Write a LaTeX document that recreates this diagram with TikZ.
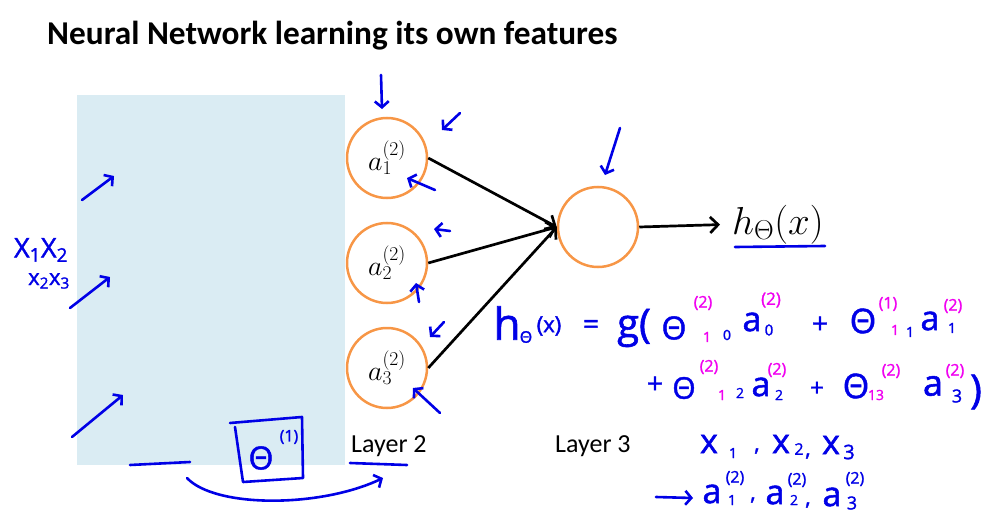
\RequirePackage{fix-cm}
\documentclass[tikz,border=0pt]{standalone}
\usepackage[no-math]{fontspec}
\setmainfont{Carlito}
\newfontfamily\handf[FakeBold=1.5]{Open Sans}
\usetikzlibrary{arrows.meta}
\definecolor{inkblue}{RGB}{0,0,230}
\definecolor{inkpink}{RGB}{240,0,240}
\definecolor{nodeorange}{RGB}{247,150,70}
\definecolor{panelblue}{RGB}{218,236,243}
\tikzset{
  neuron/.style={circle, draw=nodeorange, line width=2.5pt, minimum size=80pt, inner sep=0pt, fill=white, font=\fontsize{28}{28}\selectfont},
  conn/.style={draw=black, line width=2.7pt, -{Straight Barb[length=8pt,width=16pt]}},
  layerlbl/.style={inner sep=0pt, anchor=base west, font=\fontsize{26}{26}\selectfont},
  ink/.style={draw=inkblue, line width=2.6pt, line cap=round, line join=round},
  inkarr/.style={ink, -{Straight Barb[length=6pt,width=14pt]}},
  hw/.style={text=inkblue, inner sep=0pt, font=\handf\fontsize{#1}{#1}\selectfont},
  pk/.style={text=inkpink, inner sep=0pt, font=\handf\fontsize{#1}{#1}\selectfont},
}
\begin{document}
\begin{tikzpicture}[x=1pt,y=-1pt]
\useasboundingbox (0,0) rectangle (991,527);
% title
\node[inner sep=0pt, anchor=base west, font=\bfseries\fontsize{33.3}{34}\selectfont] (title) at (47,45) {Neural Network learning its own features};
% panel
\fill[panelblue] (77,95) rectangle (345,465);
% neurons
\node[neuron] (a1) at (387,158) {$a^{(2)}_1$};
\node[neuron] (a2) at (387,263) {$a^{(2)}_2$};
\node[neuron] (a3) at (387,368) {$a^{(2)}_3$};
\node[neuron] (out) at (598,227) {};
\node[inner sep=0pt, anchor=base west, font=\fontsize{39}{39}\selectfont] (hx) at (732,234) {$h_{\Theta}(x)$};
\draw[conn] (a1.east) -- (out.west);
\draw[conn] (a2.east) -- (out.west);
\draw[conn] (a3.east) -- (out.west);
\draw[conn, shorten >=12pt] (out.east) -- (hx.west);
\node[layerlbl] (l2) at (351,452) {Layer 2};
\node[layerlbl] (l3) at (555,452) {Layer 3};

% ---- handwritten annotations ----
% arrows around hidden units
\coordinate (s1) at (381,75);  \coordinate (e1) at (382,109);
\coordinate (s2) at (460,113); \coordinate (e2) at (442,130);
\coordinate (s3) at (435,190); \coordinate (e3) at (407,178);
\coordinate (s4) at (450,231); \coordinate (e4) at (434,229);
\coordinate (s5) at (419,302); \coordinate (e5) at (416,283);
\coordinate (s6) at (444,322); \coordinate (e6) at (430,337);
\coordinate (s7) at (440,413); \coordinate (e7) at (413,388);
\coordinate (s8) at (620,128); \coordinate (e8) at (605,175);
\foreach \i in {1,...,8} {\draw[inkarr] (s\i) -- (e\i);}
% arrows inside panel
\coordinate (p1s) at (82,200);  \coordinate (p1e) at (114,176);
\coordinate (p2s) at (70,308);  \coordinate (p2e) at (110,277);
\coordinate (p3s) at (72,437);  \coordinate (p3e) at (123,395);
\draw[inkarr] (p1s) -- (p1e);
\draw[inkarr] (p2s) -- (p2e);
\draw[inkarr] (p3s) -- (p3e);
% left notes
\node[hw=27] (xx1) at (41,250) {X\textsubscript{1}X\textsubscript{2}};
\node[hw=22] (xx2) at (49,281) {x\textsubscript{2}x\textsubscript{3}};
% underlines
\coordinate (u1s) at (735,247); \coordinate (u1e) at (825,246);
\coordinate (u2s) at (350,463); \coordinate (u2e) at (407,465);
\coordinate (u3s) at (130,465); \coordinate (u3e) at (190,462);
\draw[ink] (u1s) -- (u1e);
\draw[ink] (u2s) -- (u2e);
\draw[ink] (u3s) -- (u3e);
% boxed Theta(1)
\draw[ink] (230,423) -- (302,417) -- (303,478) -- (243,482) -- (235,427);
\node[hw=32] (bth) at (261,458) {Θ};
\node[hw=16] (bsup) at (289,437) {(1)};
% curved arrow
\coordinate (cv1) at (187,478); \coordinate (cv2) at (383,478);
\draw[inkarr] (cv1) .. controls (215,508) and (320,508) .. (cv2);

% formula line 1
\node[hw=44] (fh) at (507,323) {h};
\node[hw=16] (fth) at (526,337) {Θ};
\node[hw=22] (fx) at (549,326) {(x)};
\node[hw=28] (feq) at (591,327) {=};
\node[hw=40] (fg) at (634,328) {g(};
\node[hw=32] (fT1) at (674,328) {Θ};
\node[pk=16] (q1) at (703,303) {(2)};
\node[pk=14] (q1s) at (707,337) {1};
\node[hw=14] (r1s) at (727,335) {0};
\node[hw=34] (fa0) at (752,322) {a};
\node[hw=15] (fa0s) at (769,330) {0};
\node[pk=17] (q2) at (771,300) {(2)};
\node[hw=28] (fp1) at (820,325) {+};
\node[hw=34] (fT2) at (863,321) {Θ};
\node[pk=16] (q3) at (888,304) {(1)};
\node[pk=14] (q3s) at (895,330) {1};
\node[hw=14] (r3s) at (910,332) {1};
\node[hw=34] (fa1) at (930,321) {a};
\node[hw=14] (fa1s) at (952,328) {1};
\node[pk=16] (q4) at (953,306) {(2)};
% formula line 2
\node[hw=28] (fp2) at (655,385) {+};
\node[hw=30] (fT3) at (684,388) {Θ};
\node[pk=16] (q5) at (709,367) {(2)};
\node[pk=14] (q5s) at (722,395) {1};
\node[hw=14] (r5s) at (740,393) {2};
\node[hw=34] (fa2) at (761,387) {a};
\node[hw=14] (fa2s) at (779,395) {2};
\node[pk=16] (q6) at (777,370) {(2)};
\node[hw=24] (fp3) at (817,389) {+};
\node[hw=34] (fT4) at (856,386) {Θ};
\node[pk=16] (q7) at (891,371) {(2)};
\node[pk=14] (q7s) at (876,395) {13};
\node[hw=36] (fa3) at (933,386) {a};
\node[hw=18] (fa3s) at (957,396) {3};
\node[pk=16] (q8) at (955,371) {(2)};
\node[hw=40] (fcl) at (976,392) {)};

% bottom right notes
\node[hw=34] (bx1) at (709,444) {x};
\node[hw=14] (bx1s) at (733,453) {1};
\node[hw=22] (bc1) at (757,451) {,};
\node[hw=34] (bx2) at (781,444) {x};
\node[hw=16] (bx2s) at (799,449) {2};
\node[hw=22] (bc2) at (808,456) {,};
\node[hw=34] (bx3) at (831,445) {x};
\node[hw=20] (bx3s) at (849,452) {3};
\coordinate (ba1) at (656,497); \coordinate (ba2) at (693,498);
\draw[inkarr] (ba1) -- (ba2);
\node[hw=34] (c1) at (712,494) {a};
\node[hw=14] (c1s) at (732,500) {1};
\node[hw=16] (c1p) at (735,478) {(2)};
\node[hw=22] (cc1) at (753,500) {,};
\node[hw=34] (c2) at (775,495) {a};
\node[hw=14] (c2s) at (794,500) {2};
\node[hw=16] (c2p) at (797,480) {(2)};
\node[hw=22] (cc2) at (808,505) {,};
\node[hw=34] (c3) at (832,497) {a};
\node[hw=18] (c3s) at (852,503) {3};
\node[hw=16] (c3p) at (855,479) {(2)};
\end{tikzpicture}
\end{document}
